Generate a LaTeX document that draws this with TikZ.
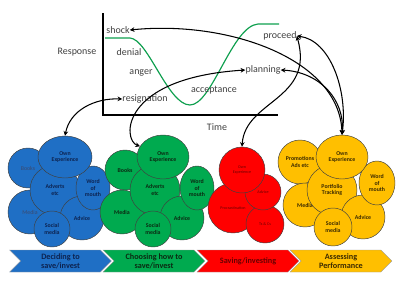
\documentclass[tikz,border=0pt]{standalone}
\usepackage{fontspec}
\setmainfont{Carlito}
\usetikzlibrary{shapes.geometric, shapes.symbols, arrows.meta}
\definecolor{StageBlue}{HTML}{1F6FC5}
\definecolor{StageGreen}{HTML}{00AA4F}
\definecolor{StageRed}{HTML}{FF0000}
\definecolor{StageGold}{HTML}{FFBF00}
\definecolor{CurveGreen}{HTML}{0E9F4E}
\definecolor{BlueInk}{HTML}{0D2350}
\definecolor{BlueGrey}{HTML}{3A4A70}
\definecolor{GreenInk}{HTML}{0B2A12}
\definecolor{RedInk}{HTML}{6A0000}
\definecolor{GoldInk}{HTML}{3B2A00}

\begin{document}
\begin{tikzpicture}[x=0.03cm, y=-0.03cm, >={Stealth[length=4pt, width=4pt]},
        lab/.style={font=\fontsize{8.5}{9}\selectfont, text=black!75, inner sep=0pt},
        bub/.style={circle, draw=black!75, line width=0.4pt, inner sep=0pt, align=center, font=\fontsize{5}{5.5}\selectfont\bfseries, minimum size=#1},
        oval/.style 2 args={ellipse, draw=black!75, line width=0.4pt, inner sep=0pt, align=center, font=\fontsize{5}{5.5}\selectfont\bfseries, minimum width=#1, minimum height=#2},
        thin/.style={font=\fontsize{5}{5.5}\selectfont},
        tiny/.style={font=\fontsize{3.5}{4}\selectfont},
        stage/.style={signal, signal to=east, signal from=west, minimum width=3.05cm, minimum height=0.66cm, inner sep=0pt, align=center, font=\fontsize{7}{7.5}\selectfont\bfseries, draw=black!40, line width=0.3pt},
        arr/.style={<->, line width=0.9pt}]

        \useasboundingbox (0,0) rectangle (400,300);

        % response curve
        \draw[line width=0.9pt] (103,13) coordinate (top) -- (103,115) coordinate (origin) -- (278,115) coordinate (tend);
        \draw[CurveGreen, line width=1pt] (105,38) -- (130,38) .. controls (148,39) and (168,105) .. (190,105) .. controls (212,105) and (232,26) .. (258,24) -- (279,24);
        \node[lab] (resp) at (77,52) {Response};
        \node[lab] (time) at (217,127) {Time};
        \node[lab] (shock) at (118,30) {shock};
        \node[lab] (denial) at (129,52) {denial};
        \node[lab] (anger) at (141,73) {anger};
        \node[lab] (accept) at (214,90) {acceptance};
        \node[lab] (resig) at (145,99) {resignation};
        \node[lab] (plan) at (263,70) {planning};
        \node[lab] (proc) at (280,36) {proceed};

        % deciding
        \node[bub=1.2cm, fill=StageBlue, text=BlueGrey, thin] (bBooks) at (28,168) {Books};
        \node[bub=1.32cm, fill=StageBlue, text=BlueGrey, thin] (bMedia) at (30,212) {Media};
        \node[bub=1.5cm, fill=StageBlue, text=BlueInk] (bAdverts) at (55,190) {Adverts\\etc};
        \node[bub=1.32cm, fill=StageBlue, text=BlueInk] (bAdvice) at (82,218) {Advice};
        \node[bub=1.08cm, fill=StageBlue, text=BlueInk] (bSocial) at (52,229) {Social\\media};
        \node[oval={1.02cm}{1.32cm}, fill=StageBlue, text=BlueInk] (bWord) at (93,188) {Word\\of\\mouth};
        \node[oval={1.62cm}{1.26cm}, fill=StageBlue, text=BlueInk] (bOwn) at (65,157) {Own\\Experience};

        % choosing
        \node[bub=1.2cm, fill=StageGreen, text=GreenInk] (gBooks) at (125,170) {Books};
        \node[bub=1.32cm, fill=StageGreen, text=GreenInk] (gMedia) at (122,212) {Media};
        \node[bub=1.5cm, fill=StageGreen, text=GreenInk] (gAdverts) at (155,190) {Adverts\\etc};
        \node[bub=1.32cm, fill=StageGreen, text=GreenInk] (gAdvice) at (182,218) {Advice};
        \node[bub=1.08cm, fill=StageGreen, text=GreenInk] (gSocial) at (153,229) {Social\\media};
        \node[oval={1.02cm}{1.32cm}, fill=StageGreen, text=GreenInk] (gWord) at (197,188) {Word\\of\\mouth};
        \node[oval={1.56cm}{1.32cm}, fill=StageGreen, text=GreenInk] (gOwn) at (163,157) {Own\\Experience};

        % saving
        \node[bub=1.5cm, fill=StageRed, text=RedInk, tiny] (rProc) at (233,208) {Procrastination};
        \node[bub=1.14cm, fill=StageRed, text=RedInk, tiny] (rTs) at (265,224) {Ts \& Cs};
        \node[bub=1.08cm, fill=StageRed, text=RedInk, tiny] (rAdvice) at (263,192) {Advice};
        \node[bub=1.38cm, fill=StageRed, text=RedInk, tiny] (rOwn) at (242,170) {Own\\Experience};

        % assessing
        \node[bub=1.32cm, fill=StageGold, text=GoldInk] (yPromo) at (300,162) {Promotions\\Ads etc};
        \node[bub=1.32cm, fill=StageGold, text=GoldInk] (yMedia) at (305,205) {Media};
        \node[bub=1.5cm, fill=StageGold, text=GoldInk] (yPort) at (332,190) {Portfolio\\Tracking};
        \node[bub=1.32cm, fill=StageGold, text=GoldInk] (yAdvice) at (363,217) {Advice};
        \node[bub=1.14cm, fill=StageGold, text=GoldInk] (ySocial) at (333,227) {Social\\media};
        \node[oval={1.08cm}{1.32cm}, fill=StageGold, text=GoldInk] (yWord) at (377,183) {Word\\of\\mouth};
        \node[oval={1.56cm}{1.32cm}, fill=StageGold, text=GoldInk] (yOwn) at (342,157) {Own\\Experience};

        % stages
        \node[stage, fill=StageBlue, text=BlueInk] (sDecide) at (60.5,261) {Deciding to\\save/invest};
        \node[stage, fill=StageGreen, text=GreenInk] (sChoose) at (154,261) {Choosing how to\\save/invest};
        \node[stage, fill=StageRed, text=RedInk] (sSave) at (248,261) {Saving/investing};
        \node[stage, fill=StageGold, text=GoldInk] (sAssess) at (341,261) {Assessing\\Performance};

        % links
        \draw[arr] (bOwn.north) .. controls (70,110) and (95,98) .. (resig.west);
        \draw[arr] (gOwn.155) .. controls (122,140) and (120,78) .. (plan.west);
        \draw[arr] (rOwn.north) .. controls (245,100) and (315,100) .. (proc.east);
        \draw[arr] (yOwn.north) .. controls (340,60) and (230,20) .. (shock.east);
        \draw[arr] (yOwn.north) .. controls (348,90) and (330,40) .. (proc.east);
        \draw[arr] (yOwn.north) .. controls (345,100) and (320,72) .. (plan.east);
    \end{tikzpicture}
\end{document}
